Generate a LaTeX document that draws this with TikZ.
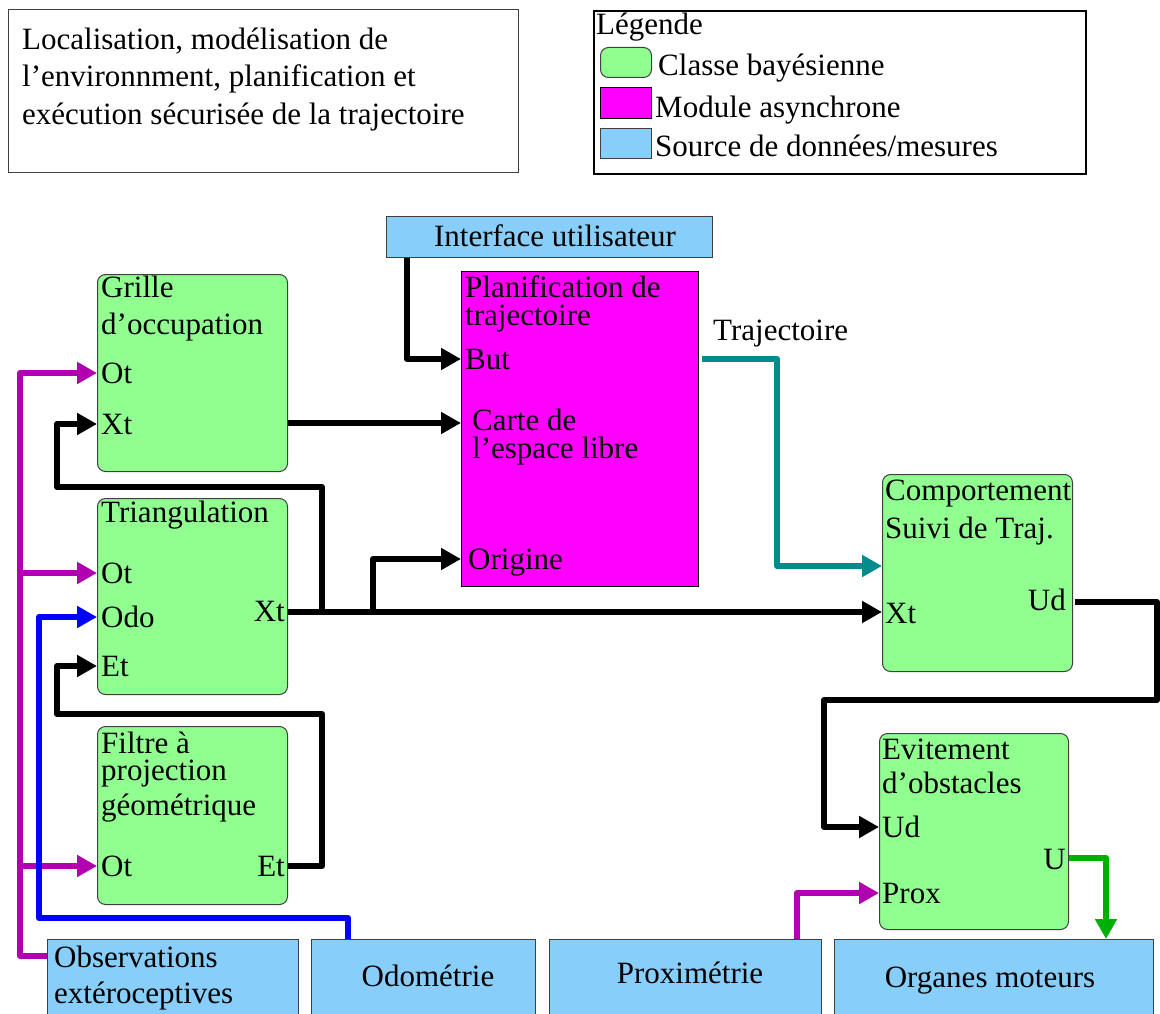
\documentclass[tikz,border=0pt]{standalone}
\usepackage{fontspec}
\setmainfont{Liberation Serif}
\usetikzlibrary{arrows.meta,calc}
\definecolor{bgreen}{RGB}{144,255,144}
\definecolor{bblue}{RGB}{135,206,250}
\definecolor{bmag}{RGB}{255,0,255}
\definecolor{cmag}{RGB}{176,0,176}
\definecolor{cteal}{RGB}{0,140,140}
\definecolor{cgreen}{RGB}{0,176,0}
\definecolor{cblue}{RGB}{0,0,255}
\begin{document}
\begin{tikzpicture}[x=1pt,y=-1pt,
  every node/.style={font=\fontsize{31}{37}\selectfont},
  gbox/.style={draw=black!75,fill=bgreen,rounded corners=8pt,line width=1pt,inner sep=0pt,anchor=north west},
  mbox/.style={draw=black,fill=bmag,line width=1pt,inner sep=0pt,anchor=north west},
  sbox/.style={draw=black!75,fill=bblue,line width=1pt,inner sep=0pt,anchor=north west},
  txt/.style={inner sep=0pt,anchor=base west},
  port/.style={inner sep=0pt,text height=21pt,text depth=0pt,anchor=west},
  rport/.style={inner sep=0pt,text height=21pt,text depth=0pt,anchor=east},
  conn/.style={line width=6pt,line join=round,-{Triangle[length=20pt,width=21pt]}}]
\useasboundingbox[fill=white] (0,0) rectangle (1160,1014);

% title box
\node[draw=black!75,line width=1pt,inner sep=0pt,anchor=north west,minimum width=510pt,minimum height=163pt] (title) at (8,9) {};
\node[txt] (t1) at (22,50) {Localisation, modélisation de};
\node[txt] (t2) at (22,87) {l’environnment, planification et};
\node[txt] (t3) at (22,125) {exécution sécurisée de la trajectoire};

% legend
\node[draw=black,line width=2pt,inner sep=0pt,anchor=north west,minimum width=492pt,minimum height=163pt] (legend) at (593,10) {};
\node[txt] (lg) at (596,35) {Légende};
\node[gbox,minimum width=51pt,minimum height=30pt] (sw1) at (600,47) {};
\node[txt] (lg1) at (658,76) {Classe bayésienne};
\node[mbox,minimum width=51pt,minimum height=31pt] (sw2) at (600,87) {};
\node[txt] (lg2) at (655,118) {Module asynchrone};
\node[sbox,minimum width=51pt,minimum height=30pt] (sw3) at (600,128) {};
\node[txt] (lg3) at (655,157) {Source de données/mesures};

% boxes
\node[sbox,minimum width=326pt,minimum height=41pt] (iface) at (386,216) {};
\node[inner sep=0pt,anchor=base] (ifacet) at (555,247) {Interface utilisateur};
\node[mbox,minimum width=237pt,minimum height=315pt] (plan) at (461,271) {};
\node[txt] (p1) at (465,297) {Planification de};
\node[txt] (p2) at (465,325) {trajectoire};
\node[port] (pBut) at (465,359) {But};
\node[txt] (p3) at (472,430) {Carte de};
\node[txt] (p4) at (472,458) {l’espace libre};
\node[port] (pOri) at (468,559) {Origine};
\node[txt] (traj) at (713,340) {Trajectoire};

\node[gbox,minimum width=190pt,minimum height=197pt] (grille) at (97,274) {};
\node[txt] (g1) at (101,297) {Grille};
\node[txt] (g2) at (101,334) {d’occupation};
\node[port] (gOt) at (101,373) {Ot};
\node[port] (gXt) at (101,424) {Xt};

\node[gbox,minimum width=190pt,minimum height=196pt] (tri) at (97,498) {};
\node[txt] (tr1) at (101,522) {Triangulation};
\node[port] (tOt) at (101,573) {Ot};
\node[port] (tOdo) at (101,617) {Odo};
\node[port] (tEt) at (101,666) {Et};
\node[rport] (tXt) at (285,611) {Xt};

\node[gbox,minimum width=190pt,minimum height=178pt] (filt) at (97,726) {};
\node[txt] (f1) at (101,753) {Filtre à};
\node[txt] (f2) at (101,780) {projection};
\node[txt] (f3) at (101,815) {géométrique};
\node[port] (fOt) at (101,866) {Ot};
\node[rport] (fEt) at (285,866) {Et};

\node[gbox,minimum width=190pt,minimum height=197pt] (comp) at (882,474) {};
\node[txt] (c1) at (885,500) {Comportement};
\node[txt] (c2) at (885,538) {Suivi de Traj.};
\node[port] (cXt) at (885,613) {Xt};
\node[rport] (cUd) at (1066,600) {Ud};

\node[gbox,minimum width=189pt,minimum height=196pt] (evit) at (879,733) {};
\node[txt] (e1) at (882,759) {Evitement};
\node[txt] (e2) at (882,793) {d’obstacles};
\node[port] (eUd) at (882,827) {Ud};
\node[rport] (eU) at (1066,859) {U};
\node[port] (eProx) at (882,893) {Prox};

\node[sbox,minimum width=251pt,minimum height=90pt] (obs) at (47,939) {};
\node[txt] (o1) at (54,967) {Observations};
\node[txt] (o2) at (54,1003) {extéroceptives};
\node[sbox,minimum width=224pt,minimum height=90pt] (odo) at (311,939) {};
\node[inner sep=0pt,anchor=base] (odot) at (428,986) {Odométrie};
\node[sbox,minimum width=272pt,minimum height=90pt] (prox) at (549,939) {};
\node[inner sep=0pt,anchor=base] (proxt) at (690,983) {Proximétrie};
\node[sbox,minimum width=319pt,minimum height=90pt] (org) at (834,939) {};
\node[inner sep=0pt,anchor=base] (orgt) at (990,987) {Organes moteurs};

% connectors
\draw[conn,cmag] (obs.west |- 0,956) -- (20,956) -- (20,373) -- (grille.west |- gOt);
\draw[conn,cmag] (20,573) -- (tri.west |- tOt);
\draw[conn,cmag] (20,866) -- (filt.west |- fOt);
\draw[conn,cblue] (odo.north -| 348,0) |- (39,918) |- (tri.west |- tOdo);
\draw[conn] (tri.east |- 0,612) -- (comp.west |- 0,612);
\draw[conn] (322,612) |- (57,487) |- (grille.west |- gXt);
\draw[conn] (373,612) |- (plan.west |- pOri);
\draw[conn] (grille.east |- 0,423) -- (plan.west |- 0,423);
\draw[conn] (filt.east |- fEt) -| (322,714) -| (57,690) |- (tri.west |- tEt);
\draw[conn] (iface.south -| 407,0) |- (plan.west |- pBut);
\draw[conn,cteal] (702,359) -| (777,566) -- (comp.west |- 0,566);
\draw[conn,-] (1075,602) -| (1157,700) -| (824,760);
\draw[conn] (824,760) |- (evit.west |- eUd);
\draw[conn,cmag] (prox.north -| 797,0) |- (evit.west |- eProx);
\draw[conn,cgreen] (1069,858) -| (org.north -| 1106,0);
\end{tikzpicture}
\end{document}
